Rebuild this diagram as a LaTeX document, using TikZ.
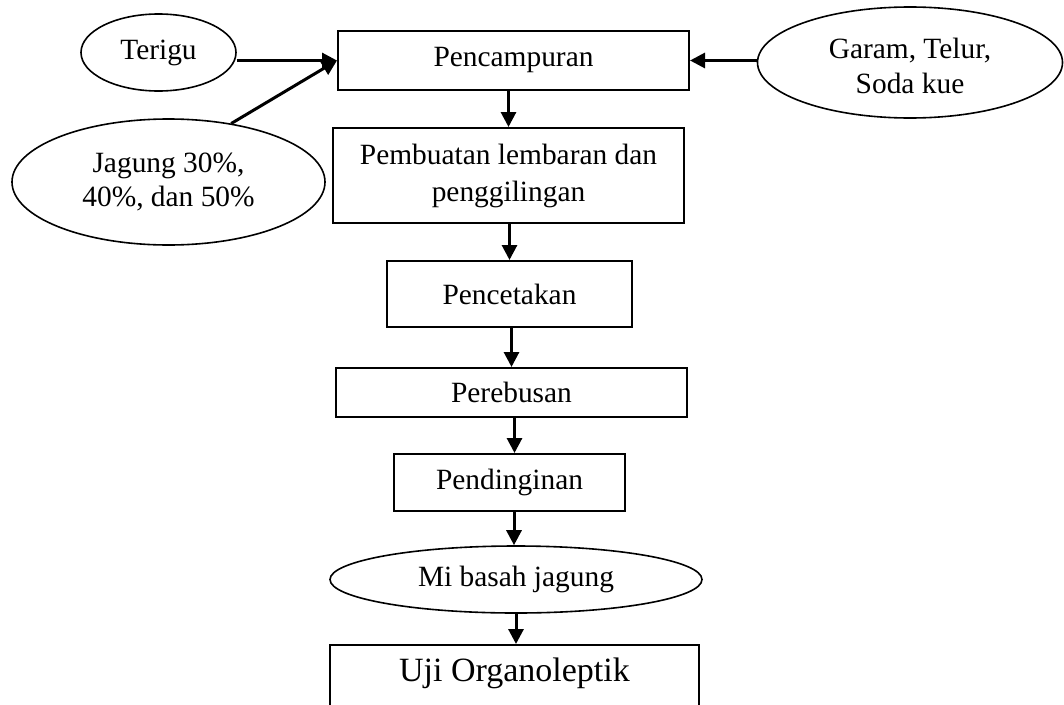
\documentclass[tikz,border=0pt]{standalone}
\usepackage{fontspec}
\setmainfont{Liberation Serif}
\usetikzlibrary{shapes.geometric,arrows.meta}
\begin{document}
\begin{tikzpicture}[x=1pt,y=-1pt,
  txt/.style={font=\fontsize{29.4}{38}\selectfont, align=center},
  boxnode/.style={txt, draw, line width=2pt, rectangle, inner sep=0pt},
  ellnode/.style={txt, draw, line width=1.6pt, ellipse, inner sep=0pt},
  flow/.style={line width=3pt, -{Triangle[length=15pt,width=15pt]}}
]
\useasboundingbox (0,0) rectangle (1064,704);
\clip (0,0) rectangle (1064,704);

\node[ellnode, minimum width=155pt, minimum height=77pt] (terigu) at (158.5,52.5) {Terigu};
\node[boxnode, minimum width=351pt, minimum height=59pt] (pencampuran) at (513.5,60.5) {Pencampuran};
\node[ellnode, minimum width=305pt, minimum height=111pt] (garam) at (910,62.5) {};
\node[txt, font=\fontsize{29.4}{35}\selectfont] (garamtxt) at (910,66) {Garam, Telur,\\Soda kue};
\node[ellnode, minimum width=313pt, minimum height=126pt, font=\fontsize{29.4}{34}\selectfont] (jagung) at (168.5,182) {Jagung 30\%,\\40\%, dan 50\%};
\node[boxnode, minimum width=351pt, minimum height=95pt, font=\fontsize{29.4}{37}\selectfont] (pembuatan) at (508.5,175.5) {Pembuatan lembaran dan\\penggilingan};
\node[boxnode, minimum width=245pt, minimum height=66pt] (pencetakan) at (509.5,294) {Pencetakan};
\node[boxnode, minimum width=351pt, minimum height=49pt] (perebusan) at (511.5,392.5) {Perebusan};
\node[boxnode, minimum width=231pt, minimum height=57pt] (pendinginan) at (509.5,482.5) {Pendinginan};
\node[ellnode, minimum width=372pt, minimum height=67pt] (mibasah) at (516,579.5) {Mi basah jagung};
\node[boxnode, minimum width=369pt, minimum height=95pt] (uji) at (514.5,692.5) {};
\node[font=\fontsize{34}{40}\selectfont] (ujitxt) at (514.5,673) {Uji Organoleptik};

\draw[flow] (pencampuran.west -| terigu.east) -- (pencampuran.west);
\draw[flow] (jagung.43) -- (pencampuran.west);
\draw[flow] (pencampuran.east -| garam.west) -- (pencampuran.east);

\draw[flow] (pencampuran.south -| pembuatan.north) -- (pembuatan.north);
\draw[flow] (pembuatan.south -| pencetakan.north) -- (pencetakan.north);
\draw[flow] ([xshift=2pt]pencetakan.south) -- ([xshift=2pt]pencetakan.south |- perebusan.north);
\draw[flow] ([xshift=3pt]perebusan.south) -- ([xshift=3pt]perebusan.south |- pendinginan.north);
\draw[flow] ([xshift=4.5pt]pendinginan.south) -- ([xshift=4.5pt]pendinginan.south |- mibasah.north);
\draw[flow] (mibasah.south) -- (mibasah.south |- uji.north);
\end{tikzpicture}
\end{document}
